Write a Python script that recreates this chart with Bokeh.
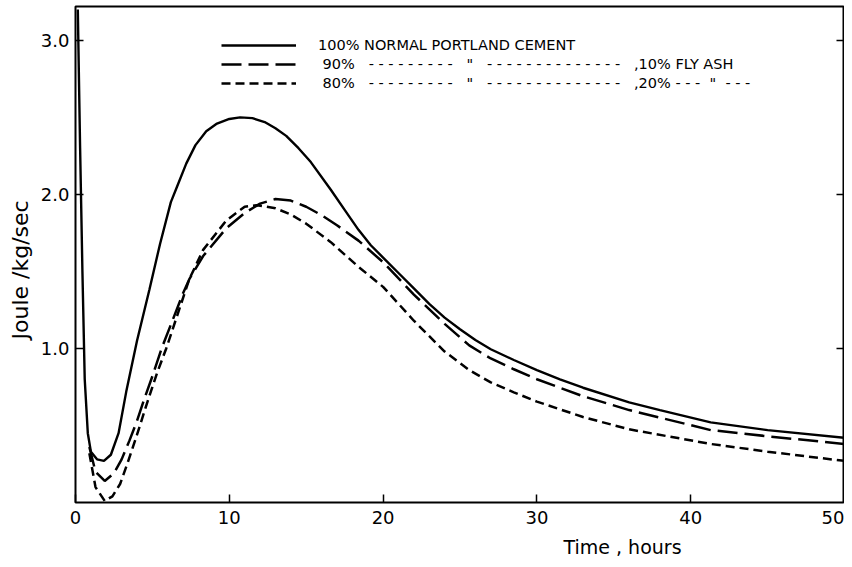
from bokeh.plotting import figure
from bokeh.models import (Range1d, FixedTicker, LinearAxis, Legend, LegendItem, Title)
from bokeh.embed import file_html
from bokeh.resources import INLINE

# ---- data ----
t_opc = [0.15, 0.3, 0.45, 0.6, 0.8, 1.0, 1.4, 1.85, 2.3, 2.8, 3.3, 4.0, 4.8, 5.5, 6.2, 6.6,
         7.2, 7.8, 8.5, 9.2, 10.0, 10.7, 11.5, 12.3, 13.0, 13.7, 14.5, 15.3, 16.6, 17.5, 18.4,
         19.2, 20.0, 21.0, 22.0, 23.0, 24.0, 25.0, 26.0, 27.0, 28.5, 30.0, 31.5, 33.0, 36.0,
         38.0, 41.3, 45.0, 50.0]
v_opc = [3.2, 2.3, 1.5, 0.8, 0.45, 0.33, 0.28, 0.27, 0.31, 0.45, 0.72, 1.05, 1.38, 1.68, 1.95, 2.05,
         2.20, 2.32, 2.41, 2.46, 2.49, 2.50, 2.495, 2.47, 2.43, 2.38, 2.30, 2.21, 2.03, 1.90, 1.77,
         1.67, 1.59, 1.49, 1.39, 1.29, 1.20, 1.125, 1.055, 0.995, 0.925, 0.86, 0.80, 0.745, 0.65,
         0.60, 0.52, 0.47, 0.42]

t_fa10 = [0.9, 1.3, 1.9, 2.5, 3.0, 3.5, 4.0, 4.5, 5.0, 5.6, 6.3, 7.0, 7.4, 8.3, 9.8, 11.0,
          12.0, 13.0, 14.0, 15.0, 16.0, 17.0, 18.4, 20.0, 22.0, 24.0, 25.6, 27.0, 28.5, 30.0,
          33.0, 36.0, 41.3, 45.0, 50.0]
v_fa10 = [0.36, 0.20, 0.14, 0.19, 0.28, 0.40, 0.53, 0.68, 0.82, 1.00, 1.18, 1.36, 1.45, 1.60, 1.78, 1.88,
          1.94, 1.97, 1.96, 1.92, 1.865, 1.80, 1.70, 1.56, 1.35, 1.16, 1.02, 0.935, 0.865, 0.80,
          0.69, 0.60, 0.47, 0.43, 0.38]

t_fa20 = [0.9, 1.3, 1.9, 2.4, 2.9, 3.4, 4.0, 4.7, 5.3, 5.9, 6.5, 7.4, 8.3, 9.8, 11.0, 11.8,
          13.0, 14.0, 15.0, 16.6, 18.4, 20.0, 22.0, 24.0, 25.6, 27.0, 28.5, 30.0, 33.0, 36.0,
          41.3, 45.0, 50.0]
v_fa20 = [0.32, 0.10, 0.01, 0.04, 0.12, 0.26, 0.44, 0.66, 0.84, 1.00, 1.18, 1.45, 1.64, 1.83, 1.92, 1.93,
          1.91, 1.87, 1.81, 1.69, 1.53, 1.40, 1.18, 0.98, 0.86, 0.78, 0.715, 0.655, 0.555, 0.475,
          0.38, 0.33, 0.27]

x_ticks = [0, 10, 20, 30, 40, 50]
y_ticks = [1, 2, 3]
y_tick_labels = {1: "1.0", 2: "2.0", 3: "3.0"}

legend_labels = [
    "100% NORMAL PORTLAND CEMENT",
    " 90%   - - - - - - - - -   \"   - - - - - - - - - - - - - -   ,10% FLY ASH",
    " 80%   - - - - - - - - -   \"   - - - - - - - - - - - - - -   ,20% - - -  \"  - - -",
]

FONT = "DejaVu Sans"

p = figure(width=844, height=565, output_backend="svg", toolbar_location=None,
           x_range=Range1d(0, 50), y_range=Range1d(0, 3.22),
           min_border_left=74, min_border_right=0, min_border_top=6, min_border_bottom=40)
p.background_fill_color = "white"
p.border_fill_color = "white"
p.outline_line_color = "black"
p.outline_line_width = 2
p.xgrid.visible = False
p.ygrid.visible = False

# axes
xa = p.xaxis[0]
xa.ticker = FixedTicker(ticks=x_ticks)
xa.major_tick_in = 8
xa.major_tick_out = 0
xa.minor_tick_in = 0
xa.minor_tick_out = 0
xa.axis_line_color = None
xa.major_tick_line_color = "black"
xa.major_tick_line_width = 1.5
xa.major_label_standoff = 8
xa.major_label_text_font = FONT
xa.major_label_text_font_size = "18px"
xa.major_label_text_color = "black"

ya = p.yaxis[0]
ya.ticker = FixedTicker(ticks=y_ticks)
ya.major_label_overrides = y_tick_labels
ya.major_tick_in = 8
ya.major_tick_out = 0
ya.minor_tick_in = 0
ya.minor_tick_out = 0
ya.axis_line_color = None
ya.major_tick_line_color = "black"
ya.major_tick_line_width = 1.5
ya.major_label_standoff = 6
ya.major_label_text_font = FONT
ya.major_label_text_font_size = "18px"
ya.major_label_text_color = "black"

ra = LinearAxis(ticker=FixedTicker(ticks=y_ticks), major_label_overrides={1: "", 2: "", 3: ""},
                major_tick_in=8, major_tick_out=0, minor_tick_in=0, minor_tick_out=0,
                axis_line_color=None, major_tick_line_width=1.5,
                major_label_text_font_size="1px", major_label_standoff=0)
p.add_layout(ra, "right")

# curves
r1 = p.line(t_opc, v_opc, line_color="black", line_width=2.4)
r2 = p.line(t_fa10, v_fa10, line_color="black", line_width=2.5, line_dash="20 7")
r3 = p.line(t_fa20, v_fa20, line_color="black", line_width=2.5, line_dash="9 5")

legend = Legend(items=[LegendItem(label=legend_labels[0], renderers=[r1]),
                       LegendItem(label=legend_labels[1], renderers=[r2]),
                       LegendItem(label=legend_labels[2], renderers=[r3])],
                location=(146, 411), glyph_width=75, glyph_height=16, label_height=16,
                spacing=3, padding=0, margin=0, label_standoff=22,
                label_text_font=FONT, label_text_font_size="14.5px", label_text_color="black",
                border_line_alpha=0, background_fill_alpha=0)
p.add_layout(legend)

yt = Title(text="Joule /kg/sec", align="left", offset=163, standoff=10,
           text_font=FONT, text_font_size="22px", text_font_style="normal", text_color="black")
p.add_layout(yt, "left")

xt = Title(text="Time , hours", align="left", offset=488, standoff=15,
           text_font=FONT, text_font_size="19px", text_font_style="normal", text_color="black")
p.add_layout(xt, "below")

open("out.html", "w").write(file_html(p, INLINE))
